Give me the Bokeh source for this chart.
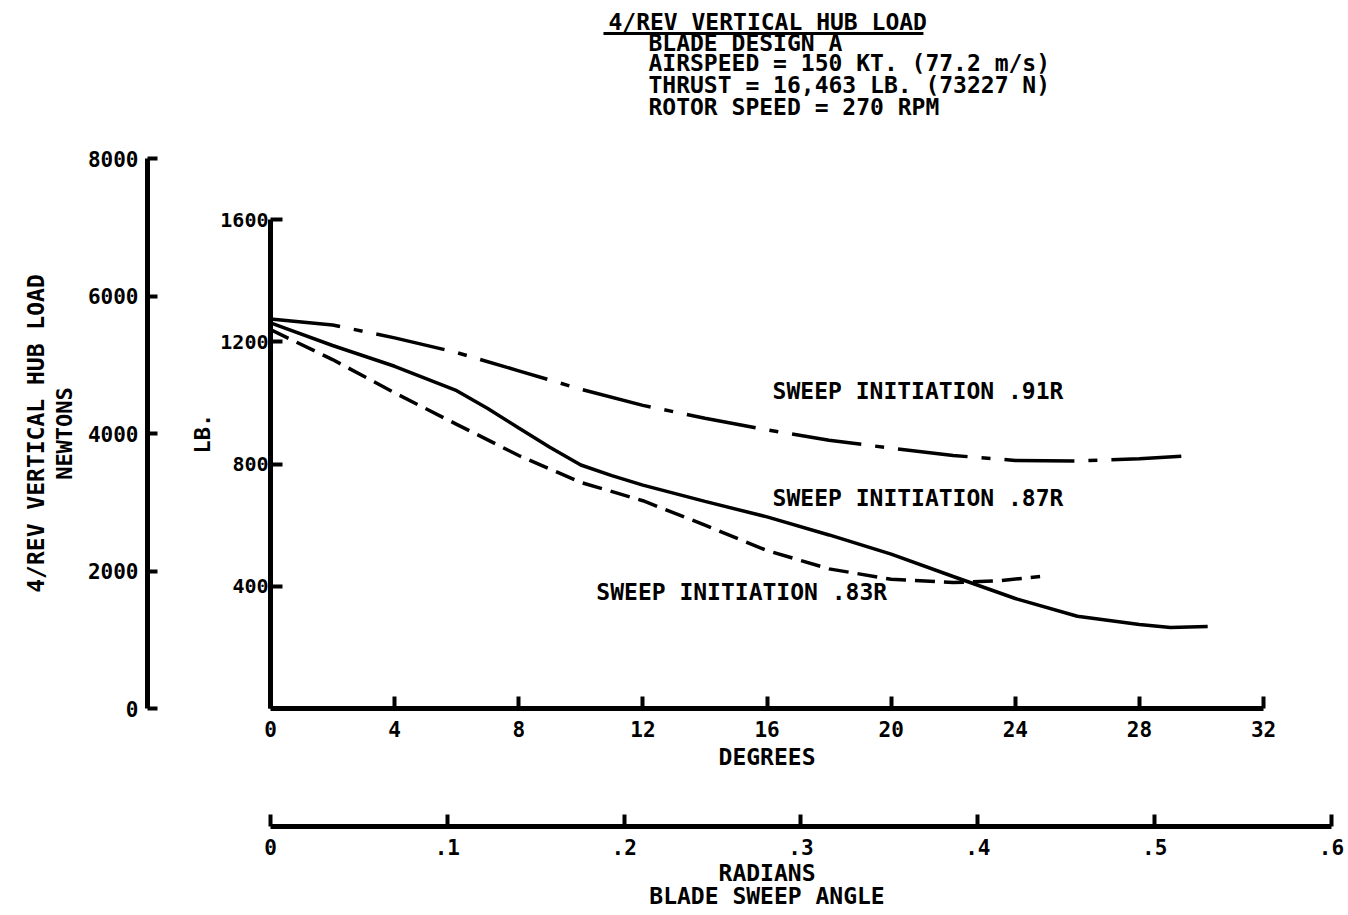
from bokeh.plotting import figure
from bokeh.models import (Range1d, LinearAxis, FixedTicker, Label)
from bokeh.core.properties import value
from bokeh.embed import file_html
from bokeh.resources import INLINE

# ---------------- data ----------------
DEG_91 = [0, 2, 4, 6, 8, 10, 12, 14, 16, 18, 20, 22, 24, 26, 28, 29.7]
LB_91 = [1275, 1255, 1213, 1165, 1105, 1045, 992, 950, 912, 878, 852, 828, 812, 810, 817, 828]

DEG_87 = [0, 2, 4, 6, 7, 8, 9, 10, 11, 12, 14, 16, 18, 20, 22, 24, 26, 28, 29, 30.2]
LB_87 = [1262, 1188, 1120, 1040, 982, 918, 855, 797, 762, 731, 678, 627, 568, 505, 432, 360, 302, 275, 265, 268]

DEG_83 = [0, 2, 4, 6, 8, 10, 12, 14, 16, 18, 20, 22, 23.5, 24.8]
LB_83 = [1240, 1142, 1033, 930, 828, 740, 680, 600, 517, 457, 423, 412, 418, 432]

DEG_TICKS = [0, 4, 8, 12, 16, 20, 24, 28, 32]
RAD_TICKS = [0, 0.1, 0.2, 0.3, 0.4, 0.5, 0.6]
RAD_LABELS = ["0", ".1", ".2", ".3", ".4", ".5", ".6"]
LB_TICKS = [400, 800, 1200, 1600]
N_TICKS = [0, 2000, 4000, 6000, 8000]

SERIES_NAMES = ["SWEEP INITIATION .91R", "SWEEP INITIATION .87R", "SWEEP INITIATION .83R"]
TITLE = "4/REV VERTICAL HUB LOAD"
SUBTITLES = ["BLADE DESIGN  A", "AIRSPEED = 150 KT. (77.2 m/s)",
             "THRUST =  16,463 LB. (73227 N)", "ROTOR SPEED = 270 RPM"]
X_TITLE = "DEGREES"
X2_TITLE = ["RADIANS", "BLADE SWEEP ANGLE"]

FONT = "DejaVu Sans Mono"

p = figure(width=1345, height=912, output_backend="svg", toolbar_location=None,
           x_range=Range1d(0, 34.48), y_range=Range1d(0, 1800),
           x_axis_location=None, y_axis_location=None,
           min_border_left=270, min_border_right=5, min_border_top=158,
           min_border_bottom=204, background_fill_color="white",
           border_fill_color="white", outline_line_color=None)
p.grid.visible = False
p.extra_x_ranges = {"rad": Range1d(0, 0.6051)}
p.extra_y_ranges = {"n": Range1d(0, 8000)}


def style(ax, size="21px"):
    ax.axis_line_width = 5
    ax.axis_line_color = "black"
    ax.major_tick_line_width = 4
    ax.major_tick_line_color = "black"
    ax.major_tick_in = 12
    ax.major_tick_out = 0
    ax.minor_tick_line_color = None
    ax.major_label_text_font = FONT
    ax.major_label_text_font_style = "bold"
    ax.major_label_text_font_size = size
    ax.major_label_text_color = "black"
    ax.axis_label_text_font = FONT
    ax.axis_label_text_font_style = "bold"
    ax.axis_label_text_font_size = "22px"
    ax.axis_label_text_color = "black"


def spacer(ax, px, at):
    # an empty band of the given depth: one white tick, no line, no label
    ax.ticker = FixedTicker(ticks=[at])
    ax.axis_line_color = None
    ax.major_tick_line_color = "white"
    ax.major_tick_line_width = 1
    ax.minor_tick_line_color = None
    ax.major_tick_in = 0
    ax.major_tick_out = px
    ax.minor_tick_out = 0
    ax.major_label_standoff = 0
    ax.major_label_text_font_size = "0px"
    ax.major_label_text_color = None


# left axes: LB (next to frame), spacer, Newtons, outer label
lb_ax = LinearAxis(ticker=FixedTicker(ticks=LB_TICKS), bounds=(0, 1600),
                   axis_label="LB.", axis_label_standoff=2)
style(lb_ax, "20px")
lb_ax.major_label_standoff = 2
p.add_layout(lb_ax, "left")

sp1 = LinearAxis()
spacer(sp1, 40, 1700)
p.add_layout(sp1, "left")

n_ax = LinearAxis(y_range_name="n", ticker=FixedTicker(ticks=N_TICKS), bounds=(0, 8000),
                  axis_label="NEWTONS", axis_label_standoff=8)
style(n_ax, "21px")
n_ax.major_tick_in = 10
n_ax.major_label_standoff = 9
p.add_layout(n_ax, "left")

out_ax = LinearAxis(y_range_name="n", axis_label=TITLE, axis_label_standoff=0)
out_ax.ticker = FixedTicker(ticks=[])
out_ax.axis_line_color = None
out_ax.major_tick_line_color = None
out_ax.minor_tick_line_color = None
out_ax.axis_label_text_font = FONT
out_ax.axis_label_text_font_style = "bold"
out_ax.axis_label_text_font_size = "23px"
out_ax.axis_label_text_color = "black"
p.add_layout(out_ax, "left")

# below axes: degrees, spacer, radians
deg_ax = LinearAxis(ticker=FixedTicker(ticks=DEG_TICKS), bounds=(0, 32))
style(deg_ax, "21px")
deg_ax.major_label_standoff = 12
p.add_layout(deg_ax, "below")

sp2 = LinearAxis()
spacer(sp2, 87, 33)
p.add_layout(sp2, "below")

rad_ax = LinearAxis(x_range_name="rad", ticker=FixedTicker(ticks=RAD_TICKS), bounds=(0, 0.6))
style(rad_ax, "21px")
rad_ax.major_label_standoff = 12
rad_ax.major_label_overrides = {t: s for t, s in zip(RAD_TICKS, RAD_LABELS)}
p.add_layout(rad_ax, "below")

# curves
p.line(DEG_91, LB_91, line_color="black", line_width=3.5, line_dash="70 14 9 14")
p.line(DEG_87, LB_87, line_color="black", line_width=3.5)
p.line(DEG_83, LB_83, line_color="black", line_width=3.5, line_dash="20 9")


def label(x, y, text):
    lab = Label(x=x, y=y, text=text, text_font=FONT, text_font_style="bold",
                text_font_size="23px", text_color="black", text_align="left",
                text_baseline="middle")
    p.add_layout(lab)


label(16.18, 1040, SERIES_NAMES[0])
label(16.18, 690, SERIES_NAMES[1])
label(10.5, 380, SERIES_NAMES[2])


def outer_text(xs, ys, texts, align):
    r = p.text(x=xs, y=ys, text=texts, text_font=value(FONT), text_font_style="bold",
               text_font_size="23px", text_color="black", text_align=align,
               text_baseline="middle")
    r.level = "overlay"


# title block (above the frame)
outer_text([10.89], [2248], [TITLE], "left")
outer_text([12.18] * 4, [2179, 2114, 2042, 1970], SUBTITLES, "left")
ul = p.segment(x0=[10.73], y0=[2209], x1=[21.04], y1=[2209], line_color="black", line_width=3)
ul.level = "overlay"

# bottom axis titles
outer_text([16.0, 16.0, 16.0], [-160, -537, -615], [X_TITLE] + X2_TITLE, "center")

open("out.html", "w").write(file_html(p, INLINE))
